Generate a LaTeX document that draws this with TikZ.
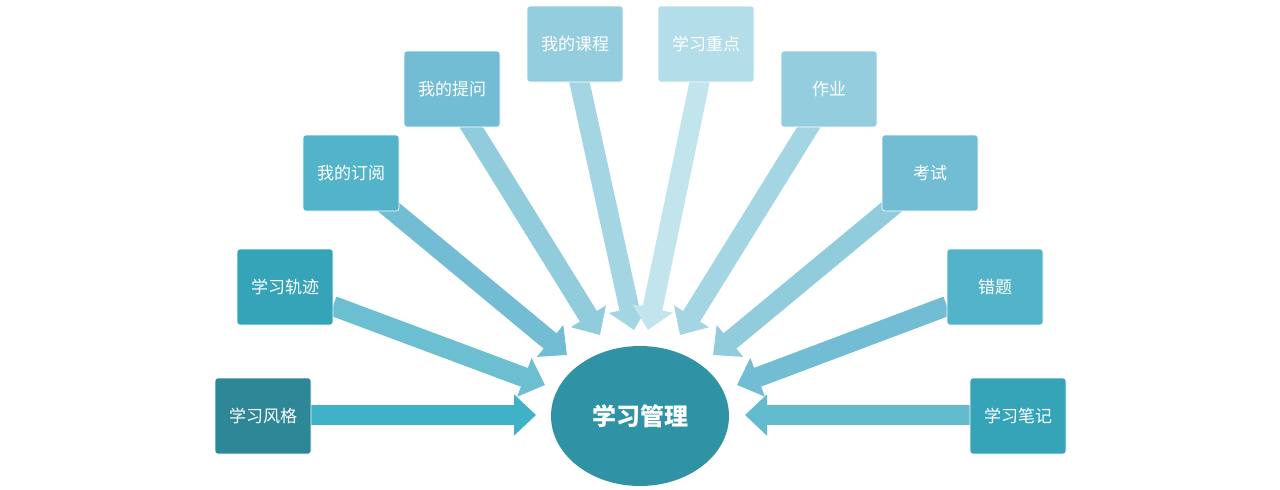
\documentclass[tikz,border=0pt]{standalone}
\usepackage{fontspec}
\setmainfont{Noto Sans CJK SC}
\usetikzlibrary{arrows.meta,shapes.geometric}
\definecolor{c1}{HTML}{2E8797}
\definecolor{c2}{HTML}{35A3B8}
\definecolor{c3}{HTML}{52B3C9}
\definecolor{c4}{HTML}{72BDD3}
\definecolor{c5}{HTML}{94CEDE}
\definecolor{c6}{HTML}{B3DDE8}
\definecolor{ce}{HTML}{2F93A5}
\begin{document}
\begin{tikzpicture}[x=1pt,y=-1pt,
  box/.style={draw=white,line width=0.6pt,rounded corners=3pt,minimum width=96pt,minimum height=76pt,text=white,font=\fontsize{17}{20}\selectfont,inner sep=0pt},
  arr/.style={line width=20pt,-{Triangle[width=40pt,length=22pt]}}]
\useasboundingbox (0,0) rectangle (1280,490);
\coordinate (s1) at (311,415); \coordinate (t1) at (536,415);
\coordinate (s2) at (333,306); \coordinate (t2) at (545,385);
\coordinate (s3) at (380,200); \coordinate (t3) at (567,355);
\coordinate (s4) at (468,122); \coordinate (t4) at (600,335);
\coordinate (s5) at (579,80); \coordinate (t5) at (634,330);
\coordinate (s6) at (700,80); \coordinate (t6) at (648,330);
\coordinate (s7) at (812,122); \coordinate (t7) at (680,335);
\coordinate (s8) at (900,200); \coordinate (t8) at (713,355);
\coordinate (s9) at (947,306); \coordinate (t9) at (737,385);
\coordinate (s10) at (970,415); \coordinate (t10) at (745,415);
\draw[arr,color={rgb,255:red,64;green,178;blue,200}] (s1) -- (t1);
\draw[arr,c3!85] (s2) -- (t2);
\draw[arr,c4] (s3) -- (t3);
\draw[arr,c5!90!c4] (s4) -- (t4);
\draw[arr,c5!85] (s5) -- (t5);
\draw[arr,c6!80] (s6) -- (t6);
\draw[arr,c5!85] (s7) -- (t7);
\draw[arr,c5!90!c4] (s8) -- (t8);
\draw[arr,c4] (s9) -- (t9);
\draw[arr,c3!90] (s10) -- (t10);
\node[box,fill=c1] (n1) at (263,416) {学习风格};
\node[box,fill=c2] (n2) at (285,287) {学习轨迹};
\node[box,fill=c3] (n3) at (351,173) {我的订阅};
\node[box,fill=c4] (n4) at (452,89) {我的提问};
\node[box,fill=c5] (n5) at (575,44) {我的课程};
\node[box,fill=c6] (n6) at (706,44) {学习重点};
\node[box,fill=c5] (n7) at (829,89) {作业};
\node[box,fill=c4] (n8) at (930,173) {考试};
\node[box,fill=c3] (n9) at (995,287) {错题};
\node[box,fill=c2] (n10) at (1018,416) {学习笔记};
\node[ellipse,fill=ce,minimum width=178pt,minimum height=140pt,inner sep=0pt,text=white,font=\fontsize{24}{28}\selectfont\bfseries] (c) at (640,416) {学习管理};
\end{tikzpicture}
\end{document}
